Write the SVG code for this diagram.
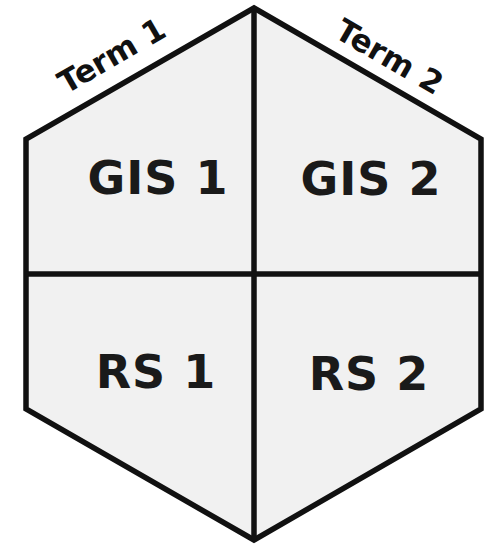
<svg xmlns="http://www.w3.org/2000/svg" width="490" height="545" viewBox="0 0 490 545">
<style>
.cell{fill:#f1f1f1;stroke:none}
.ln{stroke:#111;stroke-width:5.5;fill:none;stroke-linejoin:miter}
.big{font-family:"DejaVu Sans",sans-serif;font-weight:bold;font-size:46px;letter-spacing:1px;fill:#1a1a1a;text-anchor:middle}
.term{font-family:"DejaVu Sans",sans-serif;font-weight:bold;font-size:31px;fill:#111;text-anchor:middle}
</style>
<rect width="490" height="545" fill="#fff"/>
<g id="gis1"><polygon class="cell" points="254,8 26,139 26,274 254,274"/><text class="big" x="158" y="194">GIS 1</text></g>
<g id="gis2"><polygon class="cell" points="254,8 481,139 481,274 254,274"/><text class="big" x="371" y="195">GIS 2</text></g>
<g id="rs1"><polygon class="cell" points="26,274 254,274 254,540 26,409"/><text class="big" x="156" y="388">RS 1</text></g>
<g id="rs2"><polygon class="cell" points="254,274 481,274 481,409 254,540"/><text class="big" x="369" y="390">RS 2</text></g>
<g id="connectors">
<polygon class="ln" points="254,8 481,139 481,409 254,540 26,409 26,139"/>
<line class="ln" x1="254" y1="8" x2="254" y2="540"/>
<line class="ln" x1="26" y1="274" x2="481" y2="274"/>
</g>
<g id="labels">
<text class="term" transform="translate(117,65) rotate(-30)">Term 1</text>
<text class="term" transform="translate(384,66) rotate(30)">Term 2</text>
</g>
</svg>
